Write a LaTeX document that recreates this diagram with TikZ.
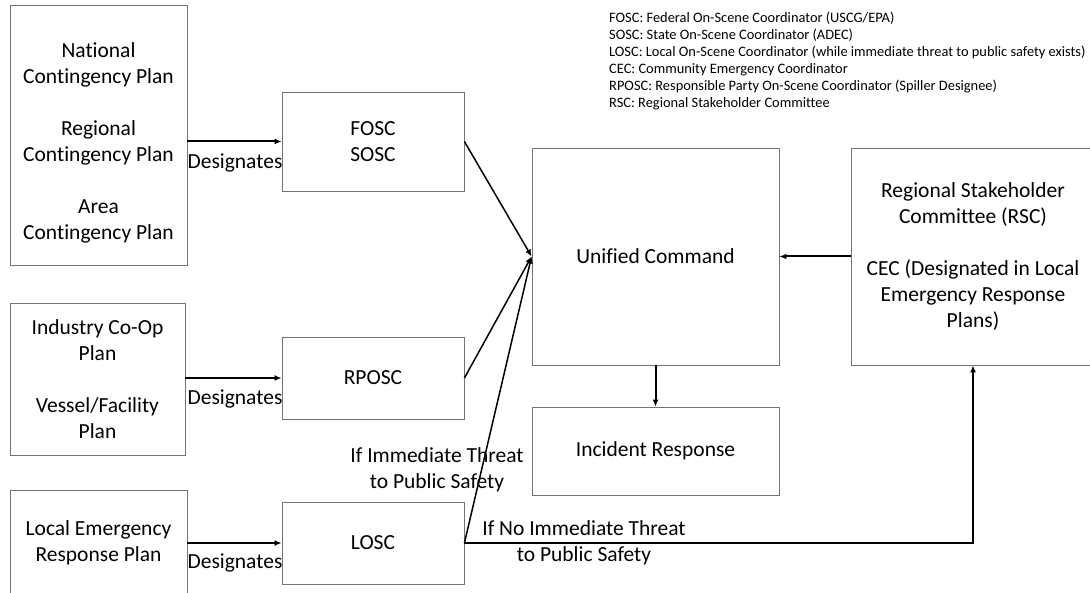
\documentclass[tikz,border=0pt]{standalone}
\usepackage{fontspec}
\setmainfont{Carlito}[Ligatures=NoCommon]
\usetikzlibrary{arrows.meta}
\begin{document}
\begin{tikzpicture}[x=1pt,y=-1pt,
  box/.style={draw=black!55, line width=0.8pt, rectangle, align=center, inner sep=0pt,
    font=\fontsize{21.5}{26}\selectfont},
  lbl/.style={align=center, inner sep=0pt, font=\fontsize{21.5}{26}\selectfont},
  thickarrow/.style={line width=2pt, -{Latex[length=7pt,width=6pt]}},
  thinarrow/.style={line width=1.5pt, -{Latex[length=7pt,width=6pt]}},
  legend/.style={align=left, inner sep=0pt, anchor=north west, font=\fontsize{14.4}{17}\selectfont}]
\useasboundingbox (0,0) rectangle (1090,593);
\clip (0,0) rectangle (1090,593);
\fill[white] (0,0) rectangle (1090,593);

% left plan boxes
\node[box, minimum width=177pt, minimum height=260pt] (ncp) at (98.5,135) {};
\node[lbl] (ncpt) at (98.5,143)
  {National\\Contingency Plan\\[26pt]Regional\\Contingency Plan\\[26pt]Area\\Contingency Plan};
\node[box, minimum width=175pt, minimum height=152pt] (ind) at (97.5,379)
  {Industry Co-Op\\Plan\\[26pt]Vessel/Facility\\Plan};
\node[box, minimum width=177pt, minimum height=106pt] (lerp) at (98.5,543)
  {Local Emergency\\Response Plan};

% coordinator boxes
\node[box, minimum width=182pt, minimum height=99pt] (fosc) at (373,141.5) {FOSC\\SOSC};
\node[box, minimum width=182pt, minimum height=82pt] (rposc) at (373,378) {RPOSC};
\node[box, minimum width=182pt, minimum height=82pt] (losc) at (373,543) {LOSC};

% command boxes
\node[box, minimum width=247pt, minimum height=217pt] (uc) at (655.5,256.5) {Unified Command};
\node[box, minimum width=247pt, minimum height=88pt] (ir) at (655.5,451) {Incident Response};
\node[box, minimum width=244pt, minimum height=217pt] (rsc) at (973,256.5)
  {Regional Stakeholder\\Committee (RSC)\\[26pt]CEC (Designated in Local\\Emergency Response\\Plans)};

% designates arrows
\draw[thickarrow] (fosc.west -| ncp.east) -- (fosc.west);
\draw[thickarrow] (rposc.west -| ind.east) -- (rposc.west);
\draw[thickarrow] (losc.west -| lerp.east) -- (losc.west);
\node[lbl] (d1) at (235,163) {Designates};
\node[lbl] (d2) at (235,399) {Designates};
\node[lbl] (d3) at (235,563) {Designates};

% converging arrows
\draw[thinarrow] (fosc.east) -- (uc.west);
\draw[thinarrow] (rposc.east) -- (uc.west);
\draw[thinarrow] (losc.east) -- (uc.west);

\draw[thickarrow] (uc.south) -- (ir.north);
\draw[thickarrow] (rsc.west) -- (uc.east);
\draw[thickarrow, line width=2.6pt] (losc.east) -| (rsc.south);

\node[lbl] (t1) at (437,470) {If Immediate Threat\\to Public Safety};
\node[lbl] (t2) at (584,543) {If No Immediate Threat\\to Public Safety};

\node[legend] (leg) at (609,12) {FOSC: Federal On-Scene Coordinator (USCG/EPA)\\
SOSC: State On-Scene Coordinator (ADEC)\\
LOSC: Local On-Scene Coordinator (while immediate threat to public safety exists)\\
CEC: Community Emergency Coordinator\\
RPOSC: Responsible Party On-Scene Coordinator (Spiller Designee)\\
RSC: Regional Stakeholder Committee};
\end{tikzpicture}
\end{document}
